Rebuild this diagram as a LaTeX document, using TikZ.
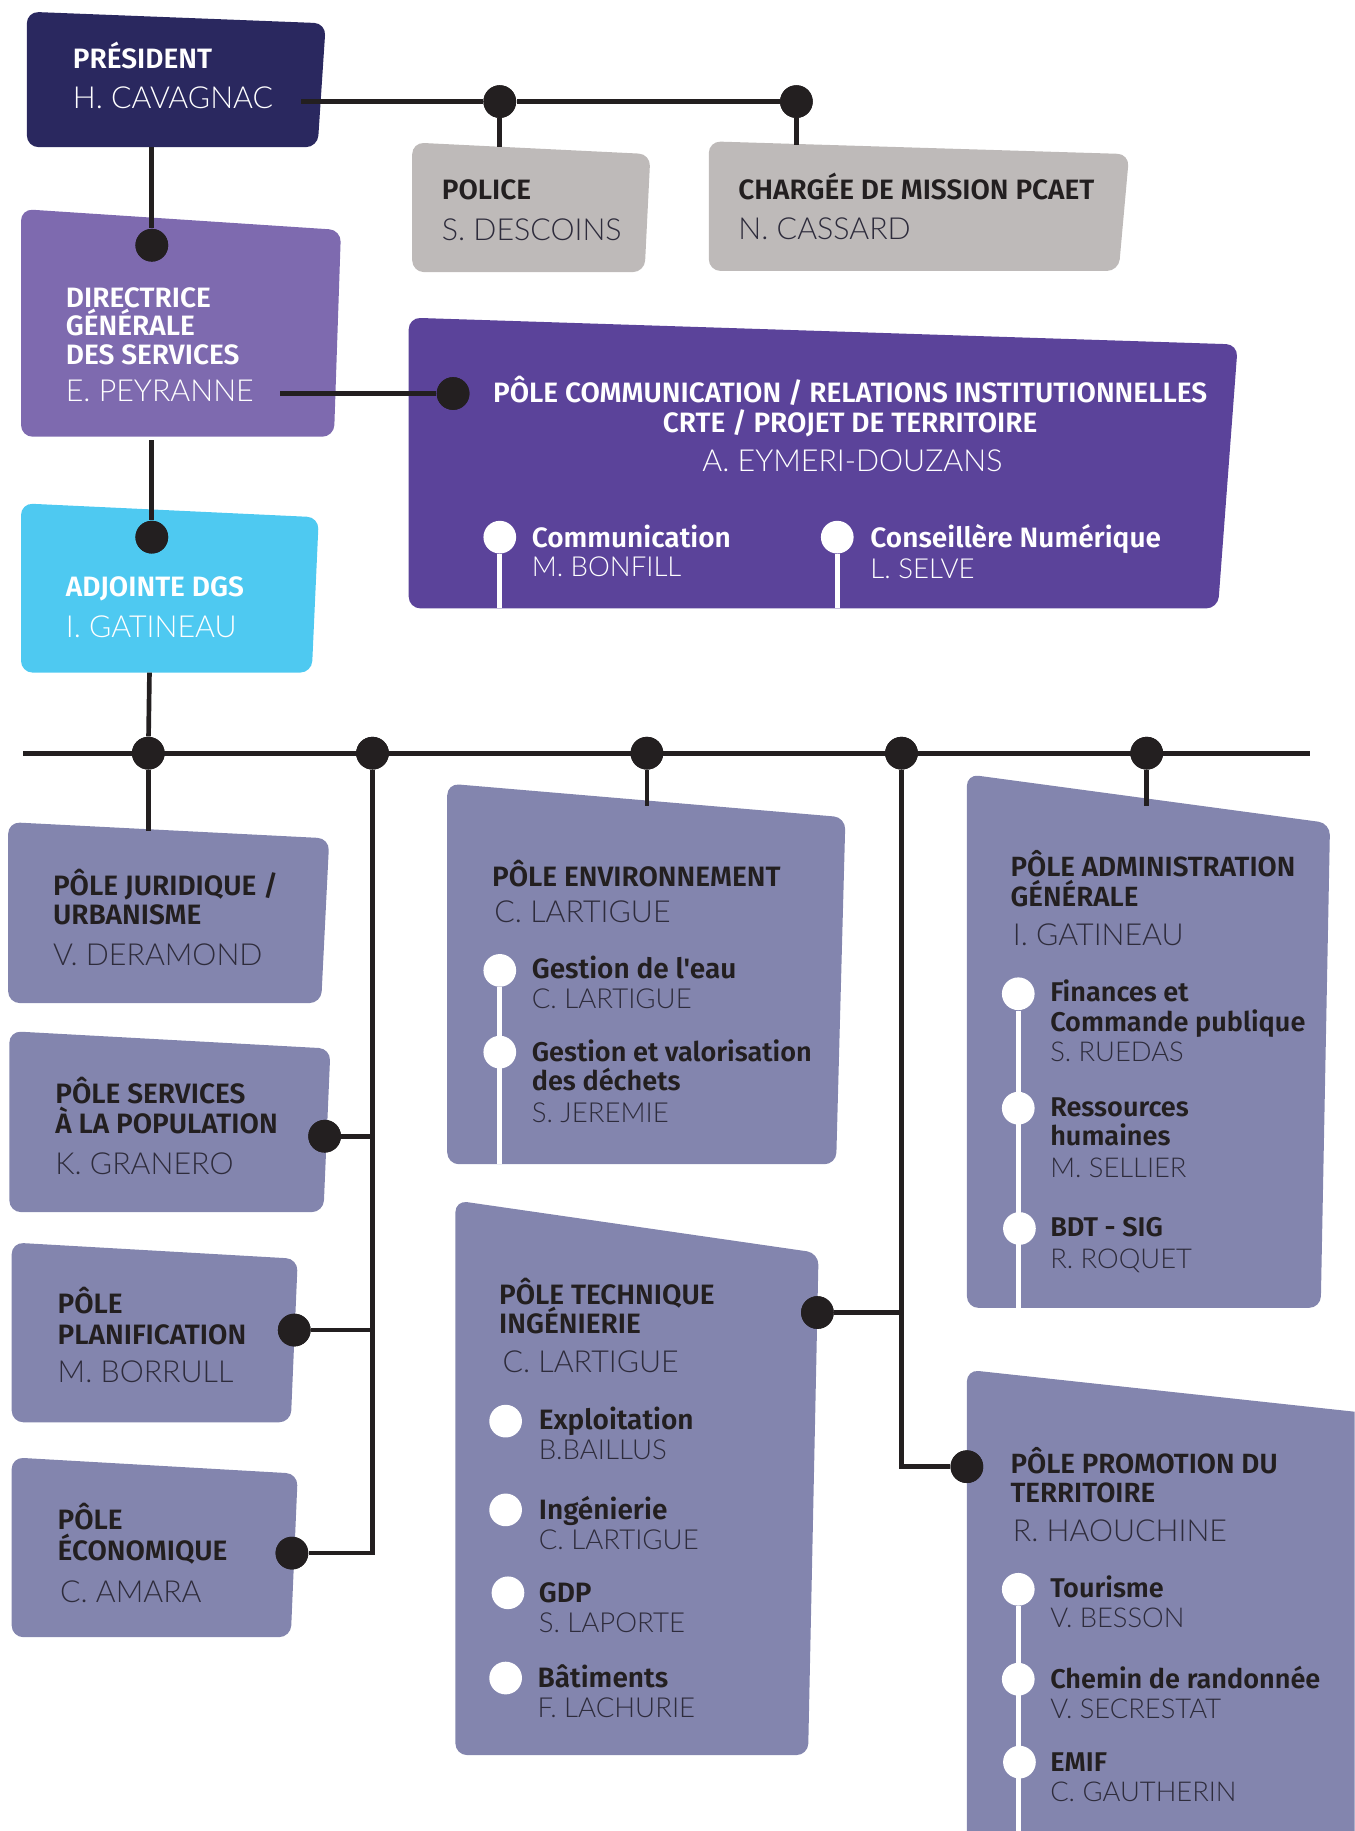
\documentclass[tikz,border=0pt]{standalone}
\usepackage{fontspec}
\setmainfont{Fira Sans}
\newfontfamily\hfont{Fira Sans SemiBold}
\newfontfamily\nfont{Lato Light}
\definecolor{ink}{HTML}{231F20}
\definecolor{ink2}{HTML}{2E2C3C}
\definecolor{navy}{HTML}{2A285F}
\definecolor{dgs}{HTML}{7E6AAF}
\definecolor{comm}{HTML}{5B439A}
\definecolor{cyanb}{HTML}{4EC9F1}
\definecolor{grayb}{HTML}{BEBAB9}
\definecolor{lav}{HTML}{8385AE}
\begin{document}
\begin{tikzpicture}[x=0.5pt,y=-0.5pt,
  box/.style={rounded corners=5pt},
  hd/.style={anchor=base west,inner sep=0pt,font=\hfont\fontsize{12}{12}\selectfont,text=ink},
  hw/.style={anchor=base west,inner sep=0pt,font=\hfont\fontsize{11.9}{12}\selectfont,text=ink},
  hs/.style={anchor=base west,inner sep=0pt,font=\hfont\fontsize{11.6}{12}\selectfont,text=ink},
  nm/.style={anchor=base west,inner sep=0pt,font=\nfont\fontsize{13}{13}\selectfont,text=ink2},
  sn/.style={anchor=base west,inner sep=0pt,font=\nfont\fontsize{11.8}{12}\selectfont,text=ink2},
  nw/.style={anchor=base west,inner sep=0pt,font=\nfont\fontsize{13}{13}\selectfont,text=ink2},
  sw/.style={anchor=base west,inner sep=0pt,font=\nfont\fontsize{11.7}{12}\selectfont,text=ink2},
  wt/.style={text=white},
  bdot/.style={circle,fill=ink,minimum size=14pt,inner sep=0pt},
  wdot/.style={circle,fill=white,minimum size=14pt,inner sep=0pt},
  conn/.style={draw=ink,line width=2pt},
  wline/.style={draw=white,line width=2.3pt}
]
\useasboundingbox (0,0) rectangle (1160,1568);
\clip (0,0) rectangle (1160,1568);
% ---------- boxes ----------
\fill[navy,box] (23,10) -- (279,20) -- (272,126) -- (23,126) -- cycle;
\fill[grayb,box] (353,122) -- (557,132) -- (552,233) -- (353,233) -- cycle;
\fill[grayb,box] (607,121) -- (967,132) -- (958,232) -- (607,232) -- cycle;
\fill[dgs,box] (18,179) -- (292,197) -- (286,374) -- (18,374) -- cycle;
\fill[comm,box] (350,272) -- (1060,295) -- (1043,521) -- (350,521) -- cycle;
\fill[cyanb,box] (18,431) -- (273,443) -- (267,576) -- (18,576) -- cycle;
\fill[lav,box] (7,704) -- (282,718) -- (275,859) -- (7,859) -- cycle;
\fill[lav,box] (8,883) -- (283,898) -- (277,1038) -- (8,1038) -- cycle;
\fill[lav,box] (10,1064) -- (255,1078) -- (249,1218) -- (10,1218) -- cycle;
\fill[lav,box] (10,1248) -- (255,1262) -- (249,1402) -- (10,1402) -- cycle;
\fill[lav,box] (383,671) -- (724,700) -- (716,997) -- (383,997) -- cycle;
\fill[lav,box] (390,1028) -- (701,1073) -- (692,1503) -- (390,1503) -- cycle;
\fill[lav,box] (828,663) -- (1139,705) -- (1131,1120) -- (828,1120) -- cycle;
\fill[lav,box] (828,1173) -- (1170,1210) -- (1170,1590) -- (828,1590) -- cycle;
% ---------- named points ----------
\coordinate (pres) at (258,87);
\coordinate (presB) at (130,126);
\coordinate (dgsR) at (240,337);
\coordinate (dgsB) at (130,377);
\coordinate (adjB) at (128,576);
\coordinate (busL) at (20,645);
\coordinate (busR) at (1122,645);
\coordinate (polT) at (428,126);
\coordinate (chgT) at (682,124);
\coordinate (jurT) at (127,712);
\coordinate (envT) at (554,690);
\coordinate (admT) at (982,690);
\coordinate (lvB) at (319,1330);
\coordinate (lv1) at (319,973);
\coordinate (lv2) at (319,1139);
\coordinate (rvB) at (772,1256);
\coordinate (rv1) at (772,1124);
\coordinate (cA) at (428,521);
\coordinate (cB) at (717,521);
\coordinate (eB) at (428,997);
\coordinate (aB) at (872,1120);
\coordinate (prB) at (872,1568);
% ---------- dots ----------
\node[bdot] (d1) at (428,87) {};
\node[bdot] (d2) at (682,87) {};
\node[bdot] (d3) at (130,210) {};
\node[bdot] (d4) at (388,337) {};
\node[bdot] (d5) at (130,460) {};
\node[bdot] (b1) at (127,645) {};
\node[bdot] (b2) at (319,645) {};
\node[bdot] (b3) at (554,645) {};
\node[bdot] (b4) at (772,645) {};
\node[bdot] (b5) at (982,645) {};
\node[bdot] (s1) at (278,973) {};
\node[bdot] (s2) at (252,1139) {};
\node[bdot] (s3) at (250,1330) {};
\node[bdot] (s4) at (700,1124) {};
\node[bdot] (s5) at (828,1256) {};
% ---------- connectors ----------
\draw[conn] (pres) -- (d1) -- (d2);
\draw[conn] (d1) -- (polT);
\draw[conn] (d2) -- (chgT);
\draw[conn] (presB) -- (d3);
\draw[conn] (dgsR) -- (d4);
\draw[conn] (dgsB) -- (d5);
\draw[conn] (adjB) -- (b1);
\draw[conn] (busL) -- (busR);
\draw[conn] (b1) -- (jurT);
\draw[conn] (b3) -- (envT);
\draw[conn] (b5) -- (admT);
\draw[conn] (b2) -- ([yshift=1pt]lvB);
\draw[conn] (lv1) -- (s1);
\draw[conn] (lv2) -- (s2);
\draw[conn] ([xshift=1pt]lvB) -- (s3);
\draw[conn] (b4) -- ([yshift=1pt]rvB);
\draw[conn] (rv1) -- (s4);
\draw[conn] ([xshift=-1pt]rvB) -- (s5);
% redraw dots on top
\foreach \n in {d1,d2,d3,d4,d5,b1,b2,b3,b4,b5,s1,s2,s3,s4,s5}
  \fill[ink] (\n) circle (7pt);
% ---------- white sub-item dots ----------
\node[wdot] (w1) at (428,460) {};
\node[wdot] (w2) at (717,460) {};
\draw[wline] (w1) -- (cA);
\draw[wline] (w2) -- (cB);
\node[wdot] (w3) at (428,831) {};
\node[wdot] (w4) at (428,901) {};
\draw[wline] (w3) -- (eB);
\node[wdot] (w5) at (433,1217) {};
\node[wdot] (w6) at (433,1293) {};
\node[wdot] (w7) at (435,1364) {};
\node[wdot] (w8) at (433,1437) {};
\node[wdot] (w9) at (872,851) {};
\node[wdot] (w10) at (872,949) {};
\node[wdot] (w11) at (873,1052) {};
\draw[wline] (w9) -- (aB);
\node[wdot] (w12) at (872,1361) {};
\node[wdot] (w13) at (872,1438) {};
\node[wdot] (w14) at (873,1509) {};
\draw[wline] (w12) -- (prB);
% ---------- texts ----------
\node[hd,wt] (t1) at (62,59) {PRÉSIDENT};
\node[nm,wt] (t2) at (62,93) {H. CAVAGNAC};
\node[hd] (t3) at (378,171) {POLICE};
\node[nm] (t4) at (378,206) {S. DESCOINS};
\node[hd] (t5) at (632,171) {CHARGÉE DE MISSION PCAET};
\node[nm] (t6) at (632,205) {N. CASSARD};
\node[hd,wt] (t7) at (56,263) {DIRECTRICE};
\node[hd,wt] (t8) at (56,287) {GÉNÉRALE};
\node[hd,wt] (t9) at (56,312) {DES SERVICES};
\node[nm,wt] (t10) at (56,344) {E. PEYRANNE};
\node[hd,wt,anchor=base] (t11) at (728,345) {PÔLE COMMUNICATION / RELATIONS INSTITUTIONNELLES};
\node[hd,wt,anchor=base] (t12) at (728,370) {CRTE / PROJET DE TERRITOIRE};
\node[nm,wt,anchor=base] (t13) at (730,404) {A. EYMERI-DOUZANS};
\node[hd,wt] (t14) at (455,469) {Communication};
\node[sn,wt] (t15) at (455,494) {M. BONFILL};
\node[hd,wt] (t16) at (745,469) {Conseillère Numérique};
\node[sn,wt] (t17) at (745,495) {L. SELVE};
\node[hd,wt] (t18) at (56,511) {ADJOINTE DGS};
\node[nm,wt] (t19) at (56,546) {I. GATINEAU};
\node[hd] (t20) at (45,767) {PÔLE JURIDIQUE /};
\node[hd] (t21) at (45,792) {URBANISME};
\node[nm] (t22) at (45,827) {V. DERAMOND};
\node[hd] (t23) at (47,945) {PÔLE SERVICES};
\node[hd] (t24) at (47,971) {À LA POPULATION};
\node[nm] (t25) at (47,1006) {K. GRANERO};
\node[hd] (t26) at (49,1125) {PÔLE};
\node[hd] (t27) at (49,1151) {PLANIFICATION};
\node[nm] (t28) at (49,1184) {M. BORRULL};
\node[hd] (t29) at (49,1310) {PÔLE};
\node[hd] (t30) at (49,1336) {ÉCONOMIQUE};
\node[nm] (t31) at (51,1372) {C. AMARA};
\node[hd] (t32) at (421,759) {PÔLE ENVIRONNEMENT};
\node[nm] (t33) at (423,790) {C. LARTIGUE};
\node[hd] (t34) at (455,838) {Gestion de l'eau};
\node[sn] (t35) at (455,864) {C. LARTIGUE};
\node[hs] (t36) at (455,909) {Gestion et valorisation};
\node[hs] (t37) at (455,934) {des déchets};
\node[sn] (t38) at (455,961) {S. JEREMIE};
\node[hd] (t39) at (427,1117) {PÔLE TECHNIQUE};
\node[hd] (t40) at (427,1142) {INGÉNIERIE};
\node[nm] (t41) at (430,1175) {C. LARTIGUE};
\node[hd] (t42) at (461,1224) {Exploitation};
\node[sn] (t43) at (461,1250) {B.BAILLUS};
\node[hd] (t44) at (461,1301) {Ingénierie};
\node[sn] (t45) at (461,1327) {C. LARTIGUE};
\node[hd] (t46) at (461,1372) {GDP};
\node[sn] (t47) at (461,1398) {S. LAPORTE};
\node[hd] (t48) at (460,1445) {Bâtiments};
\node[sn] (t49) at (460,1471) {F. LACHURIE};
\node[hw] (t50) at (865,751) {PÔLE ADMINISTRATION};
\node[hw] (t51) at (865,776) {GÉNÉRALE};
\node[nw] (t52) at (867,810) {I. GATINEAU};
\node[hs] (t53) at (899,858) {Finances et};
\node[hs] (t54) at (899,883) {Commande publique};
\node[sw] (t55) at (899,909) {S. RUEDAS};
\node[hs] (t56) at (899,956) {Ressources};
\node[hs] (t57) at (899,981) {humaines};
\node[sw] (t58) at (899,1008) {M. SELLIER};
\node[hs] (t59) at (899,1059) {BDT - SIG};
\node[sw] (t60) at (899,1086) {R. ROQUET};
\node[hw] (t61) at (865,1262) {PÔLE PROMOTION DU};
\node[hw] (t62) at (865,1287) {TERRITOIRE};
\node[nw] (t63) at (867,1320) {R. HAOUCHINE};
\node[hs] (t64) at (899,1368) {Tourisme};
\node[sw] (t65) at (899,1394) {V. BESSON};
\node[hs] (t66) at (899,1446) {Chemin de randonnée};
\node[sw] (t67) at (899,1472) {V. SECRESTAT};
\node[hs] (t68) at (899,1517) {EMIF};
\node[sw] (t69) at (899,1543) {C. GAUTHERIN};
\end{tikzpicture}
\end{document}
